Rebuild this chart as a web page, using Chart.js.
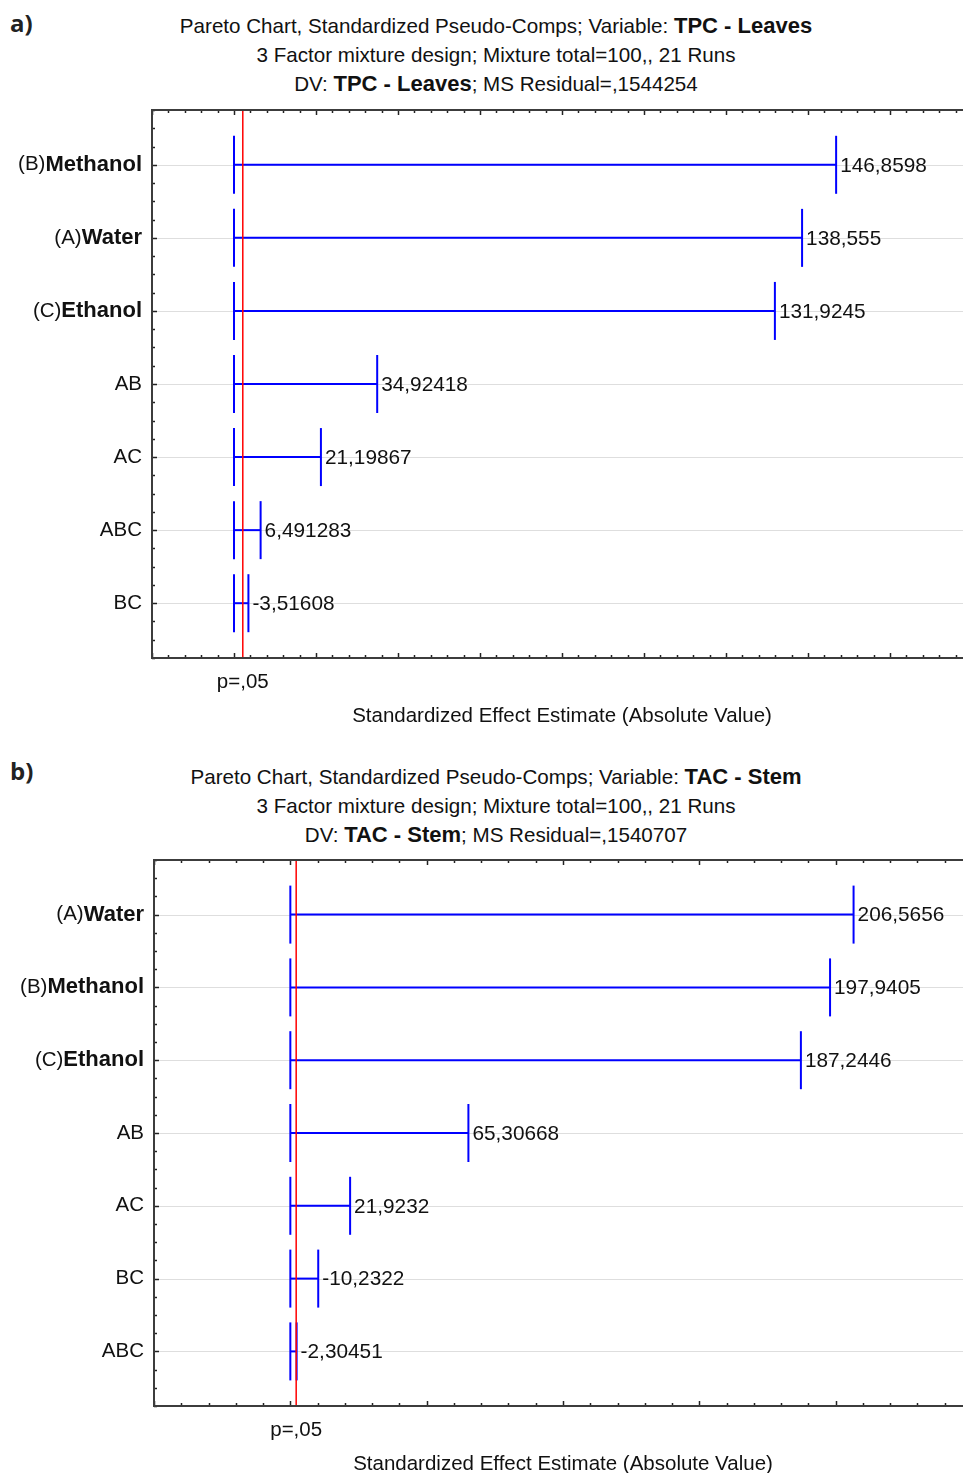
<!DOCTYPE html>
<html>
<head>
<meta charset="utf-8">
<script src="https://cdn.jsdelivr.net/npm/chart.js@4.4.1/dist/chart.umd.min.js"></script>
<style>
  body { margin: 0; width: 963px; height: 1473px; overflow: hidden; position: relative; background: #fff; }
  .tag { position: absolute; left: 10px; font: bold 24px "Open Sans", sans-serif; color: #222; }
  .ttl { position: absolute; left: 0; width: 992px; text-align: center; font: 20.6px "Liberation Sans", Arial, sans-serif; line-height: 29px; color: #111; }
  .ttl b { font-size: 22px; }
  canvas { position: absolute; left: 0; }
</style>
</head>
<body>
<div class="tag" style="top:6px">a)</div>
<div class="ttl" style="top:11px">
  Pareto Chart, Standardized Pseudo-Comps; Variable: <b>TPC - Leaves</b><br>
  3 Factor mixture design; Mixture total=100,, 21 Runs<br>
  DV: <b>TPC - Leaves</b>; MS Residual=,1544254
</div>
<canvas id="chartA" width="972" height="740" style="top:0"></canvas>

<div class="tag" style="top:754px">b)</div>
<div class="ttl" style="top:762px">
  Pareto Chart, Standardized Pseudo-Comps; Variable: <b>TAC - Stem</b><br>
  3 Factor mixture design; Mixture total=100,, 21 Runs<br>
  DV: <b>TAC - Stem</b>; MS Residual=,1540707
</div>
<canvas id="chartB" width="972" height="733" style="top:740px"></canvas>

<script>
// data
const effectsA = ['(B)Methanol', '(A)Water', '(C)Ethanol', 'AB', 'AC', 'ABC', 'BC'];
const valuesA = [146.8598, 138.555, 131.9245, 34.92418, 21.19867, 6.491283, -3.51608];
const effectsB = ['(A)Water', '(B)Methanol', '(C)Ethanol', 'AB', 'AC', 'BC', 'ABC'];
const valuesB = [206.5656, 197.9405, 187.2446, 65.30668, 21.9232, -10.2322, -2.30451];
const pCritical = 2.145;   // t(0.05; 14 df)
const pLabel = 'p=,05';
const axisTitle = 'Standardized Effect Estimate (Absolute Value)';

const FONT = '"Liberation Sans", Arial, sans-serif';

function fmt(v) {
    return String(v).replace('.', ',');
}

function line(ctx, x1, y1, x2, y2) {
    ctx.beginPath();
    ctx.moveTo(x1, y1);
    ctx.lineTo(x2, y2);
    ctx.stroke();
}

// frame, ticks, labels
const paretoFrame = {
    id: 'paretoFrame',
    beforeDatasetsDraw(chart, args, opts) {
        const {ctx, chartArea: a, scales: {y}} = chart;
        ctx.save();
        ctx.strokeStyle = '#dedede';
        ctx.lineWidth = 1;
        opts.effects.forEach((e, i) => {
            const py = Math.round(y.getPixelForValue(i)) + 0.5;
            line(ctx, a.left, py, a.right, py);
        });
        ctx.restore();
    },
    afterDatasetsDraw(chart, args, opts) {
        const {ctx, chartArea: a, scales: {x, y}} = chart;
        ctx.save();

        // ticks on top and bottom (inward)
        ctx.strokeStyle = '#222';
        ctx.lineWidth = 1.5;
        for (let v = x.min; v <= x.max + 1e-9; v += opts.minor) {
            const px = Math.round(x.getPixelForValue(v)) + 0.5;
            const len = Math.abs(v / opts.major - Math.round(v / opts.major)) < 1e-6 ? 5 : 3;
            line(ctx, px, a.top, px, a.top + len);
            line(ctx, px, a.bottom, px, a.bottom - len);
        }
        // ticks on left axis
        for (let v = y.min; v <= y.max + 1e-9; v += 0.25) {
            const py = Math.round(y.getPixelForValue(v)) + 0.5;
            const len = Math.abs(v - Math.round(v)) < 1e-6 ? 5 : 3;
            line(ctx, a.left, py, a.left + len, py);
        }

        // frame
        ctx.strokeStyle = '#3c3c3c';
        ctx.lineWidth = 2;
        ctx.beginPath();
        ctx.moveTo(a.right + 2, a.top);
        ctx.lineTo(a.left, a.top);
        ctx.lineTo(a.left, a.bottom);
        ctx.lineTo(a.right + 2, a.bottom);
        ctx.stroke();

        // effect names
        ctx.fillStyle = '#111';
        ctx.textBaseline = 'middle';
        opts.effects.forEach((e, i) => {
            const py = y.getPixelForValue(i);
            let rx = a.left - 10;
            const m = e.match(/^(\(\w\))(.*)$/);
            ctx.textAlign = 'right';
            if (m) {
                ctx.font = 'bold 22px ' + FONT;
                ctx.fillText(m[2], rx, py);
                rx -= ctx.measureText(m[2]).width;
                ctx.font = '20.5px ' + FONT;
                ctx.fillText(m[1], rx, py);
            } else {
                ctx.font = '20.5px ' + FONT;
                ctx.fillText(e, rx, py);
            }
        });

        // values
        ctx.font = '20.8px ' + FONT;
        ctx.textAlign = 'left';
        opts.values.forEach((v, i) => {
            ctx.fillText(fmt(v), x.getPixelForValue(Math.abs(v)) + 4, y.getPixelForValue(i) + 1);
        });

        // p label and axis title
        ctx.font = '20.5px ' + FONT;
        ctx.textAlign = 'center';
        ctx.fillText(pLabel, x.getPixelForValue(pCritical), a.bottom + 24);
        ctx.fillText(axisTitle, (a.left + a.right) / 2, a.bottom + 58);
        ctx.restore();
    }
};

function buildChart(canvasId, effects, values, xMin, xMax, major, minor, padding) {
    const yMin = -0.75, yMax = effects.length - 0.25;
    const datasets = effects.map((e, i) => ({
        data: [{x: 0, y: i}, {x: Math.abs(values[i]), y: i}],
        showLine: true,
        borderColor: '#0000ff',
        borderWidth: 2,
        pointStyle: 'line',
        pointRotation: 90,
        pointRadius: 29,
        pointHoverRadius: 29,
        pointBorderColor: '#0000ff',
        pointBorderWidth: 2,
        order: 1
    }));
    datasets.push({
        data: [{x: pCritical, y: yMin}, {x: pCritical, y: yMax}],
        showLine: true,
        borderColor: '#ff0000',
        borderWidth: 1.5,
        pointRadius: 0,
        order: 0
    });

    return new Chart(document.getElementById(canvasId), {
        type: 'scatter',
        data: {datasets: datasets},
        options: {
            responsive: false,
            animation: false,
            events: [],
            layout: {padding: padding, autoPadding: false},
            plugins: {
                legend: {display: false},
                tooltip: {enabled: false},
                paretoFrame: {effects: effects, values: values, major: major, minor: minor}
            },
            scales: {
                x: {type: 'linear', display: false, min: xMin, max: xMax},
                y: {type: 'linear', display: false, min: yMin, max: yMax, reverse: true}
            }
        },
        plugins: [paretoFrame]
    });
}

buildChart('chartA', effectsA, valuesA, -20, 180, 20, 4, {left: 152, top: 110, right: 0, bottom: 82});
buildChart('chartB', effectsB, valuesB, -50, 250, 50, 10, {left: 154, top: 120, right: 0, bottom: 67});
</script>
</body>
</html>
